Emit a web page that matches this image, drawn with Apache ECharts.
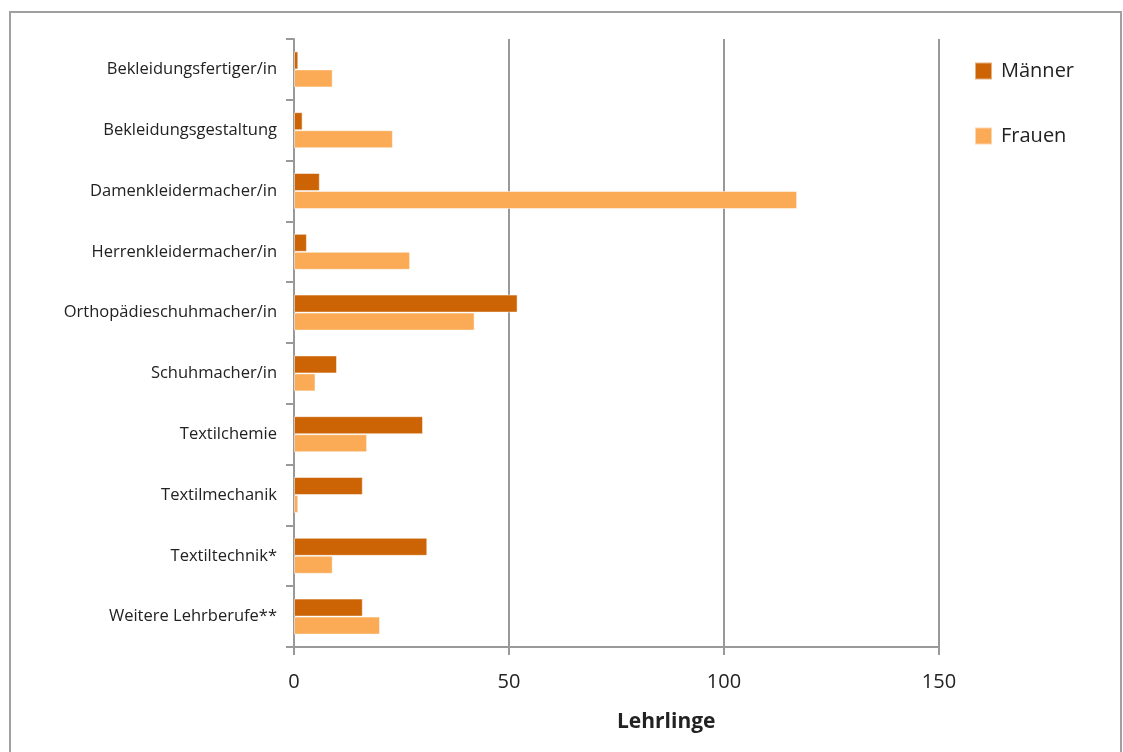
<!DOCTYPE html>
<html><head><meta charset="utf-8">
<script src="https://cdn.jsdelivr.net/npm/echarts@6/dist/echarts.min.js"></script>
<style>html,body{margin:0;padding:0;background:#fff}#c{width:1123px;height:752px}</style>
</head><body><div id="c"></div>
<script>
const categories = ["Bekleidungsfertiger/in","Bekleidungsgestaltung","Damenkleidermacher/in","Herrenkleidermacher/in","Orthopädieschuhmacher/in","Schuhmacher/in","Textilchemie","Textilmechanik","Textiltechnik*","Weitere Lehrberufe**"];
const maenner = [1, 2, 6, 3, 52, 10, 30, 16, 31, 16];
const frauen = [9, 23, 117, 27, 42, 5, 17, 1, 9, 20];
const xTicks = [0, 50, 100, 150];

const chart = echarts.init(document.getElementById('c'));
const font = '"Open Sans", Lato, sans-serif';
chart.setOption({
  animation: false,
  textStyle: {fontFamily: font},
  grid: {left: 294, right: 1123 - 939, top: 39, bottom: 752 - 647, containLabel: false},
  legend: {
    orient: 'vertical', left: 969, top: 56, itemGap: 45,
    itemWidth: 17, itemHeight: 17, icon: 'rect',
    textStyle: {fontSize: 20, color: '#222', fontFamily: font, padding: [0, 0, 0, 4]},
    data: ['Männer', 'Frauen']
  },
  xAxis: {
    type: 'value', min: 0, max: 150, interval: 50,
    axisLine: {show: true, lineStyle: {color: '#999', width: 2}},
    axisTick: {show: true, length: 8, lineStyle: {color: '#999', width: 2}},
    axisLabel: {fontSize: 20, color: '#222', margin: 25, formatter: v => xTicks.includes(v) ? String(v) : ''},
    splitLine: {show: true, lineStyle: {color: '#999', width: 2}}
  },
  yAxis: {
    type: 'category', data: categories, inverse: true,
    axisLine: {show: true, lineStyle: {color: '#999', width: 2}},
    axisTick: {show: true, length: 8, lineStyle: {color: '#999', width: 2}},
    axisLabel: {fontSize: 16.5, color: '#222', margin: 17}
  },
  graphic: [
    {type: 'rect', shape: {x: 10, y: 12, width: 1111, height: 760}, style: {fill: 'none', stroke: '#a0a0a0', lineWidth: 2}, z: -1},
    {type: 'text', left: 617, top: 712, style: {text: 'Lehrlinge', font: 'bold 21px ' + font, fill: '#222'}}
  ],
  series: [
    {name: 'Männer', type: 'bar', data: maenner, barWidth: 18, barGap: '0%',
     itemStyle: {color: '#CC6304', borderColor: 'rgba(255,255,255,0.5)', borderWidth: 1}},
    {name: 'Frauen', type: 'bar', data: frauen, barWidth: 18, barGap: '0%',
     itemStyle: {color: '#FBAA55', borderColor: 'rgba(255,255,255,0.5)', borderWidth: 1}}
  ]
});
</script></body></html>
